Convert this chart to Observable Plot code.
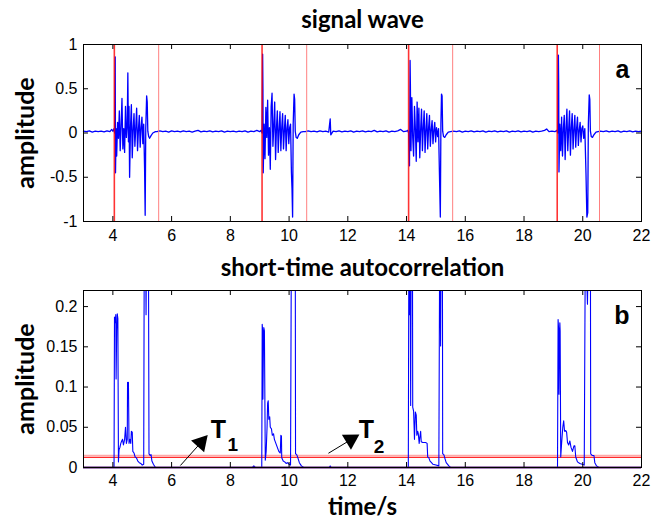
<!DOCTYPE html>
<html><head><meta charset="utf-8">
<script src="https://cdn.jsdelivr.net/npm/d3@7"></script>
<script src="https://cdn.jsdelivr.net/npm/@observablehq/plot@0.6"></script>
<style>
body{margin:0;background:#fff;}
#chart{width:654px;height:521px;background:#fff;}
#chart svg{display:block;}
</style></head><body><div id="chart"></div>
<script>
// ---------- tick values / labels ----------
const xTicks = [4, 6, 8, 10, 12, 14, 16, 18, 20, 22];
const yTicksA = [-1, -0.5, 0, 0.5, 1];
const yTicksB = [0, 0.05, 0.1, 0.15, 0.2];
const titleA = "signal wave";
const titleB = "short-time autocorrelation";
const yLabel = "amplitude";
const xLabel = "time/s";

// ---------- segmentation lines (s) ----------
const onsets = [4.05, 9.08, 14.07, 19.13];
const offsets = [5.56, 10.6, 15.57, 20.57];
const threshold = 0.0125;

// ---------- signal wave: [time, amplitude] ----------
const sigBase0 = [[3.0,0.02],[3.1,0.015],[3.2,0.025],[3.3,0.01],[3.4,0.02],[3.5,0.015],[3.6,0.02],[3.7,0.012],[3.8,0.025],[3.9,0.015],[3.96,0.04],[4.0,0.02]];
const sigBurst1 = [[4.02,0.03],[4.04,0.05],[4.06,0.0],[4.08,0.86],[4.09,-0.45],[4.11,0.05],[4.13,-0.26],[4.16,0.12],[4.19,-0.06],[4.22,0.25],[4.25,-0.2],[4.28,0.08],[4.31,0.39],[4.34,-0.18],[4.37,0.05],[4.40,-0.22],[4.43,0.30],[4.46,-0.05],[4.49,0.10],[4.51,0.68],[4.53,-0.1],[4.55,0.3],[4.57,-0.50],[4.60,0.06],[4.63,0.32],[4.66,-0.28],[4.69,0.04],[4.72,0.22],[4.75,-0.15],[4.78,0.06],[4.81,0.28],[4.84,-0.2],[4.87,0.03],[4.90,0.2],[4.93,-0.16],[4.96,0.06],[4.99,0.18],[5.02,-0.12],[5.05,0.1],[5.08,-0.40],[5.10,-0.93],[5.12,0.05],[5.15,0.42],[5.17,0.35],[5.19,0.02],[5.22,-0.04],[5.25,-0.06],[5.30,-0.03],[5.36,0.0],[5.45,0.015]];
const sigBase1 = [[5.5,0.015],[5.6,0.025],[5.7,0.015],[5.8,0.02],[5.9,0.01],[6.0,0.025],[6.1,0.015],[6.2,0.02],[6.3,0.012],[6.4,0.025],[6.5,0.015],[6.6,0.02],[6.7,0.01],[6.8,0.02],[6.9,0.03],[7.0,0.012],[7.1,0.02],[7.2,0.015],[7.3,0.025],[7.4,0.012],[7.5,0.02],[7.6,0.015],[7.7,0.025],[7.8,0.01],[7.9,0.02],[8.0,0.015],[8.1,0.02],[8.2,0.012],[8.3,0.02],[8.4,0.015],[8.5,0.025],[8.6,0.01],[8.7,0.02],[8.8,0.015],[8.9,0.03],[9.0,0.015],[9.05,0.03]];
const sigBurst2 = [[9.08,0.0],[9.10,0.89],[9.11,0.5],[9.12,-0.45],[9.15,0.1],[9.18,-0.29],[9.21,0.29],[9.24,-0.05],[9.27,0.37],[9.30,-0.25],[9.33,0.06],[9.36,-0.41],[9.39,0.3],[9.42,0.45],[9.45,-0.15],[9.48,0.08],[9.51,0.35],[9.54,-0.3],[9.57,0.05],[9.60,0.25],[9.63,-0.22],[9.66,0.04],[9.69,0.24],[9.72,-0.2],[9.75,0.06],[9.78,0.22],[9.81,-0.18],[9.84,0.03],[9.87,0.2],[9.90,-0.2],[9.93,0.05],[9.96,0.15],[9.99,-0.12],[10.02,0.06],[10.05,0.1],[10.08,-0.45],[10.10,-0.63],[10.12,-0.95],[10.14,0.1],[10.17,0.44],[10.19,0.38],[10.21,0.02],[10.24,-0.05],[10.28,-0.06],[10.33,-0.02],[10.4,0.01],[10.48,0.015]];
const sigBase2 = [[10.55,0.015],[10.65,0.025],[10.75,0.015],[10.85,0.02],[10.95,0.012],[11.05,0.025],[11.15,0.015],[11.25,0.02],[11.35,0.01],[11.40,0.16],[11.42,-0.02],[11.5,0.02],[11.6,0.015],[11.7,0.025],[11.8,0.012],[11.9,0.02],[12.0,0.015],[12.1,0.025],[12.2,0.01],[12.3,0.02],[12.4,0.015],[12.5,0.025],[12.6,0.012],[12.7,0.02],[12.8,0.015],[12.9,0.03],[13.0,0.012],[13.1,0.02],[13.2,0.015],[13.3,0.025],[13.4,0.01],[13.5,0.02],[13.6,0.015],[13.7,0.025],[13.8,0.04],[13.9,0.015],[14.0,0.02],[14.04,0.03]];
const sigBurst3 = [[14.07,0.0],[14.10,-0.37],[14.12,0.82],[14.13,0.56],[14.15,-0.2],[14.18,0.4],[14.21,-0.05],[14.24,-0.26],[14.27,0.3],[14.30,0.05],[14.33,-0.32],[14.36,0.35],[14.39,-0.1],[14.42,0.28],[14.45,-0.28],[14.48,0.04],[14.51,0.27],[14.54,-0.2],[14.57,0.06],[14.60,0.25],[14.63,-0.22],[14.66,0.03],[14.69,0.22],[14.72,-0.18],[14.75,0.05],[14.78,0.2],[14.81,-0.15],[14.84,0.04],[14.87,0.14],[14.90,-0.12],[14.93,0.03],[14.96,0.12],[14.99,-0.1],[15.02,0.06],[15.06,-0.04],[15.09,0.05],[15.12,-0.46],[15.15,-0.95],[15.17,0.1],[15.19,0.44],[15.21,0.42],[15.23,0.02],[15.26,-0.04],[15.30,-0.05],[15.35,-0.02],[15.42,0.01],[15.5,0.015]];
const sigBase3 = [[15.6,0.02],[15.7,0.015],[15.8,0.025],[15.9,0.01],[16.0,0.02],[16.1,0.015],[16.2,0.025],[16.3,0.012],[16.4,0.02],[16.5,0.015],[16.6,0.025],[16.7,0.01],[16.8,0.02],[16.9,0.015],[17.0,0.025],[17.1,0.012],[17.2,0.02],[17.3,0.015],[17.4,0.025],[17.5,0.01],[17.6,0.02],[17.7,0.015],[17.8,0.025],[17.9,0.012],[18.0,0.02],[18.1,0.015],[18.2,0.025],[18.3,0.01],[18.4,0.02],[18.5,0.015],[18.6,0.02],[18.7,0.03],[18.77,0.045],[18.85,0.015],[18.95,0.02],[19.05,0.015],[19.12,0.03]];
const sigBurst4 = [[19.15,0.0],[19.17,0.88],[19.18,0.57],[19.19,-0.44],[19.22,0.1],[19.25,-0.2],[19.28,0.18],[19.31,-0.26],[19.34,0.05],[19.37,0.2],[19.40,-0.3],[19.43,0.05],[19.46,0.27],[19.49,-0.2],[19.52,0.04],[19.55,0.25],[19.58,-0.25],[19.61,0.06],[19.64,0.22],[19.67,-0.18],[19.70,0.04],[19.73,0.2],[19.76,-0.16],[19.79,0.05],[19.82,0.18],[19.85,-0.14],[19.88,0.03],[19.91,0.12],[19.94,-0.1],[19.97,0.05],[20.00,0.08],[20.03,-0.06],[20.07,0.05],[20.11,-0.46],[20.14,-0.95],[20.17,-0.9],[20.19,0.1],[20.22,0.43],[20.24,0.38],[20.26,0.02],[20.29,-0.04],[20.33,-0.05],[20.38,-0.02],[20.45,0.01],[20.52,0.015]];
const sigBase4 = [[20.6,0.02],[20.7,0.015],[20.8,0.025],[20.9,0.012],[21.0,0.02],[21.1,0.015],[21.2,0.025],[21.3,0.01],[21.4,0.02],[21.5,0.015],[21.6,0.025],[21.7,0.012],[21.8,0.02],[21.9,0.015],[22.0,0.02]];

// ---------- short-time autocorrelation: [time, value] (values above 0.22 run off the top) ----------
const acBurst1 = [[3.0,0],[4.04,0],[4.055,0.187],[4.08,0.18],[4.10,0.19],[4.11,0.11],[4.13,0.17],[4.15,0.191],[4.17,0.185],[4.19,0.007],[4.21,0.022],[4.24,0.025],[4.27,0.03],[4.30,0.033],[4.33,0.035],[4.36,0.028],[4.40,0.035],[4.43,0.05],[4.46,0.03],[4.49,0.035],[4.50,0.106],[4.52,0.1],[4.53,0.106],[4.55,0.03],[4.58,0.035],[4.61,0.03],[4.63,0.045],[4.66,0.044],[4.68,0.02],[4.72,0.018],[4.76,0.013],[4.80,0.012],[4.85,0.008],[4.90,0.006],[4.95,0.005],[5.00,0.003],[5.05,0.004],[5.07,0.3],[5.11,0.3],[5.13,0.19],[5.15,0.3],[5.21,0.3],[5.23,0.017],[5.27,0.015],[5.30,0.016],[5.33,0.008],[5.38,0.004],[5.45,0],[8.75,0],[8.8,0.002],[8.85,0]];
const acBurst2 = [[9.07,0],[9.085,0.178],[9.10,0.17],[9.11,0.085],[9.13,0.16],[9.14,0.174],[9.16,0.17],[9.19,0.009],[9.22,0.02],[9.25,0.05],[9.27,0.08],[9.29,0.083],[9.31,0.06],[9.34,0.063],[9.36,0.05],[9.40,0.048],[9.43,0.04],[9.47,0.042],[9.5,0.035],[9.55,0.03],[9.6,0.025],[9.65,0.02],[9.70,0.018],[9.72,0.04],[9.74,0.039],[9.75,0.012],[9.8,0.008],[9.85,0.007],[9.9,0.005],[9.95,0.006],[10.0,0.004],[10.05,0.003],[10.08,0.3],[10.21,0.3],[10.22,0.017],[10.26,0.016],[10.3,0.012],[10.35,0.006],[10.42,0.002],[10.5,0],[11.37,0],[11.4,0.002],[11.43,0]];
const acBurst3 = [[14.06,0],[14.08,0.3],[14.10,0.19],[14.12,0.3],[14.14,0.077],[14.16,0.3],[14.20,0.3],[14.21,0.075],[14.24,0.07],[14.27,0.035],[14.30,0.069],[14.33,0.065],[14.35,0.04],[14.38,0.045],[14.40,0.042],[14.43,0.03],[14.45,0.037],[14.48,0.045],[14.50,0.032],[14.55,0.031],[14.60,0.031],[14.65,0.031],[14.70,0.03],[14.72,0.013],[14.76,0.012],[14.8,0.008],[14.85,0.006],[14.9,0.004],[15.0,0.003],[15.1,0.002],[15.13,0.3],[15.16,0.151],[15.18,0.3],[15.22,0.3],[15.23,0.017],[15.27,0.016],[15.3,0.012],[15.35,0.006],[15.44,0.002],[15.5,0]];
const acBurst4 = [[19.14,0],[19.16,0.184],[19.18,0.17],[19.19,0.091],[19.21,0.17],[19.22,0.18],[19.23,0.17],[19.25,0.013],[19.28,0.03],[19.32,0.05],[19.35,0.058],[19.38,0.045],[19.42,0.046],[19.45,0.044],[19.48,0.031],[19.52,0.028],[19.56,0.033],[19.60,0.025],[19.65,0.02],[19.70,0.027],[19.73,0.027],[19.76,0.013],[19.82,0.007],[19.9,0.005],[19.98,0.004],[20.05,0.003],[20.09,0.3],[20.16,0.203],[20.2,0.3],[20.26,0.3],[20.27,0.017],[20.32,0.015],[20.38,0.015],[20.41,0.006],[20.47,0.002],[20.55,0],[22.0,0]];

// ---------- annotations (data coordinates of panel b) ----------
const arrows = [
  {t1: 6.30, a1: 0.0025, t2: 7.0, a2: 0.031},
  {t1: 11.34, a1: 0.0177, t2: 12.1, a2: 0.0345}
];
const annoMain = [{t: 7.33, a: 0.037, s: "T"}, {t: 12.37, a: 0.037, s: "T"}];
const annoSub = [{t: 7.9, a: 0.021, s: "1"}, {t: 12.88, a: 0.0186, s: "2"}];

// ---------- build ----------
const signal = [...sigBase0, ...sigBurst1, ...sigBase1, ...sigBurst2, ...sigBase2, ...sigBurst3, ...sigBase3, ...sigBurst4, ...sigBase4].map(([t, a]) => ({t, a}));
const acorr = [...acBurst1, ...acBurst2, ...acBurst3, ...acBurst4].map(([t, a]) => ({t, a}));

const W = 654, ML = 83, MR = 13;
const FW = W - ML - MR;        // frame width
const FH = 177;                // frame height
const TICK = 5;
const tickFont = "Liberation Sans, Arial, sans-serif";
const headFont = "Lato, 'Open Sans', sans-serif";
const fmt = d => String(d);

function innerTicks(yt) {
  return [
    Plot.tickX(xTicks, {x: d => d, insetTop: FH - TICK, stroke: "black"}),
    Plot.tickX(xTicks, {x: d => d, insetBottom: FH - TICK, stroke: "black"}),
    Plot.tickY(yt, {y: d => d, insetRight: FW - TICK, stroke: "black"}),
    Plot.tickY(yt, {y: d => d, insetLeft: FW - TICK, stroke: "black"})
  ];
}

const common = {
  width: W, marginLeft: ML, marginRight: MR,
  style: {fontFamily: tickFont, fontSize: "16px", background: "white", color: "black", overflow: "visible"}
};

const plotA = Plot.plot({
  ...common,
  height: 260, marginTop: 44, marginBottom: 39,
  x: {domain: [3, 22]},
  y: {domain: [-1, 1]},
  marks: [
    Plot.line(signal, {x: "t", y: "a", stroke: "#0000ff", strokeWidth: 1.3}),
    Plot.ruleX(onsets, {x: d => d, stroke: "#ff0000", strokeWidth: 1.6, strokeOpacity: 0.8}),
    Plot.ruleX(offsets, {x: d => d, stroke: "#ff8080", strokeWidth: 1}),
    Plot.frame({stroke: "black", strokeWidth: 1}),
    ...innerTicks(yTicksA),
    Plot.axisX(xTicks, {tickSize: 0, tickPadding: 8, tickFormat: fmt, label: null}),
    Plot.axisY(yTicksA, {tickSize: 0, tickPadding: 6, tickFormat: fmt, label: null}),
    Plot.text([titleA], {text: d => d, frameAnchor: "top", lineAnchor: "middle", dy: -24, fontFamily: headFont, fontWeight: "bold", fontSize: 24}),
    Plot.text([yLabel], {text: d => d, frameAnchor: "left", textAnchor: "middle", lineAnchor: "middle", dx: -58, rotate: -90, fontFamily: headFont, fontWeight: "bold", fontSize: 25}),
    Plot.text(["a"], {text: d => d, frameAnchor: "top-right", dx: -12, dy: 33, lineAnchor: "bottom", textAnchor: "end", fontWeight: "bold", fontSize: 25})
  ]
});

const pxT = FW / 19, pxA = FH / 0.22;
const plotB = Plot.plot({
  ...common,
  height: 261, marginTop: 30, marginBottom: 54,
  x: {domain: [3, 22]},
  y: {domain: [0, 0.22]},
  marks: [
    Plot.ruleY([threshold], {y: d => d, stroke: "#ffa8a8", strokeWidth: 1.5, dy: -2}),
    Plot.ruleY([threshold], {y: d => d, stroke: "#ff2a2a", strokeWidth: 1.2}),
    Plot.line(acorr, {x: "t", y: "a", stroke: "#0000ff", strokeWidth: 1.1, clip: true}),
    Plot.ruleY([0], {y: d => d, stroke: "#4a0a70", strokeWidth: 2}),
    Plot.frame({stroke: "black", strokeWidth: 1}),
    ...innerTicks(yTicksB),
    Plot.axisX(xTicks, {tickSize: 0, tickPadding: 7, tickFormat: fmt, label: null}),
    Plot.axisY(yTicksB, {tickSize: 0, tickPadding: 6, tickFormat: fmt, label: null}),
    Plot.link(arrows, {x1: "t1", y1: "a1", x2: "t2", y2: "a2", stroke: "black", strokeWidth: 1}),
    Plot.dot(arrows, {x: "t2", y: "a2", symbol: "triangle", r: 6.5, fill: "black", stroke: "none",
      rotate: d => Math.atan2((d.t2 - d.t1) * pxT, (d.a2 - d.a1) * pxA) * 180 / Math.PI}),
    Plot.text(annoMain, {x: "t", y: "a", text: "s", textAnchor: "start", lineAnchor: "bottom", fontWeight: "bold", fontSize: 25}),
    Plot.text(annoSub, {x: "t", y: "a", text: "s", textAnchor: "start", lineAnchor: "bottom", fontWeight: "bold", fontSize: 19}),
    Plot.text([titleB], {text: d => d, frameAnchor: "top", lineAnchor: "middle", dy: -22, fontFamily: headFont, fontWeight: "bold", fontSize: 24}),
    Plot.text([yLabel], {text: d => d, frameAnchor: "left", textAnchor: "middle", lineAnchor: "middle", dx: -58, rotate: -90, fontFamily: headFont, fontWeight: "bold", fontSize: 25}),
    Plot.text([xLabel], {text: d => d, frameAnchor: "bottom", lineAnchor: "middle", dy: 40, fontFamily: headFont, fontWeight: "bold", fontSize: 24}),
    Plot.text(["b"], {text: d => d, frameAnchor: "top-right", dx: -12, dy: 33, lineAnchor: "bottom", textAnchor: "end", fontWeight: "bold", fontSize: 25})
  ]
});

const root = document.getElementById("chart");
root.appendChild(plotA);
root.appendChild(plotB);
</script>
</body></html>
